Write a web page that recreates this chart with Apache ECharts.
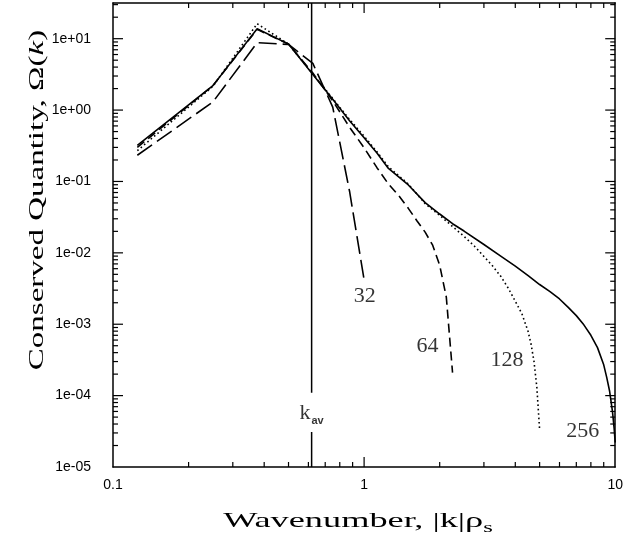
<!DOCTYPE html>
<html>
<head>
<meta charset="utf-8">
<script src="https://cdn.jsdelivr.net/npm/echarts@6/dist/echarts.min.js"></script>
<style>
  html, body { margin: 0; padding: 0; background: #fff; }
  #chart { width: 626px; height: 544px; }
</style>
</head>
<body>
<div id="chart"></div>
<script>
// Spectra of the conserved quantity for four grid resolutions
const k32 = [0.125, 0.25, 0.375, 0.5, 0.625, 0.75, 0.875, 1.0];
const omega32 = [0.233, 1.30, 8.8, 8.3, 4.5, 1.1, 0.073, 0.0042];

const k64 = [0.125, 0.25, 0.375, 0.5, 0.625, 0.75, 0.875, 1.0, 1.125, 1.25, 1.375, 1.5,
             1.625, 1.75, 1.875, 2.0, 2.125, 2.25];
const omega64 = [0.30, 2.2, 13.5, 8.4, 3.3, 1.35, 0.575, 0.296, 0.156, 0.092, 0.063, 0.042,
                 0.028, 0.0195, 0.0128, 0.0067, 0.0024, 0.00021];

const k128 = [0.125, 0.25, 0.375, 0.5, 0.625, 0.75, 0.875, 1.0, 1.125, 1.25, 1.5, 1.75,
              2.0, 2.25, 2.5, 2.75, 3.0, 3.25, 3.5, 3.75, 4.0, 4.25, 4.5, 4.625,
              4.75, 4.875, 5.0];
const omega128 = [0.27, 2.15, 16.2, 8.4, 3.2, 1.45, 0.74, 0.43, 0.26, 0.16, 0.092, 0.049,
                  0.0335, 0.0234, 0.017, 0.0124, 0.0089, 0.00653, 0.0047, 0.0032, 0.0021,
                  0.0014, 0.00079, 0.00052, 0.0003, 0.00013, 0.000033];

const k256 = [0.125, 0.25, 0.375, 0.5, 0.625, 0.75, 0.875, 1.0, 1.125, 1.25, 1.5, 1.75,
              2.0, 2.25, 2.5, 3.0, 3.5, 4.0, 4.5, 5.0, 5.5, 6.0, 6.5, 7.0, 7.5, 8.0, 8.5,
              9.0, 9.25, 9.5, 9.75, 9.9, 10.0];
const omega256 = [0.32, 2.2, 13.8, 8.4, 3.15, 1.42, 0.71, 0.41, 0.251, 0.152, 0.0893, 0.0505,
                  0.035, 0.0256, 0.0202, 0.0131, 0.009, 0.0065, 0.0048, 0.0036, 0.00286,
                  0.00226, 0.00172, 0.00132, 0.00098, 0.0007, 0.00047, 0.00027, 0.00018,
                  0.000115, 0.00006, 0.000035, 0.000022];

// Average wavenumber marker
const kAv = 0.618;

// Curve labels (text, k, Omega at the label anchor)
const curveLabels = ['32', '64', '128', '256'];
const curveLabelK = [1.005, 1.79, 3.71, 7.43];
const curveLabelOmega = [0.00249, 0.000497, 0.000317, 0.0000322];

// Axis ranges
const X_MIN = 0.1, X_MAX = 10;
const Y_MIN = 1e-5, Y_MAX = Math.pow(10, 1.5);

const zip = (xs, ys) => xs.map((x, i) => [x, ys[i]]);

// Log ticks on all four sides: [x, y, side(0 bottom,1 top,2 left,3 right), major]
const frameTicks = [];
for (let d = -1; d <= 0; d++) {
  for (let m = 1; m <= 9; m++) {
    const v = m * Math.pow(10, d);
    if (v <= X_MIN) continue;
    const major = m === 1 ? 1 : 0;
    frameTicks.push([v, Y_MIN, 0, major], [v, Y_MAX, 1, major]);
  }
}
for (let d = -5; d <= 1; d++) {
  for (let m = 1; m <= 9; m++) {
    const v = m * Math.pow(10, d);
    if (v <= Y_MIN || v >= Y_MAX) continue;
    const major = m === 1 ? 1 : 0;
    frameTicks.push([X_MIN, v, 2, major], [X_MAX, v, 3, major]);
  }
}

const INK = '#000';
const SERIF = '"Liberation Serif", "DejaVu Serif", serif';
const SANS = '"Liberation Sans", Arial, sans-serif';

function expLabel(v) {
  const e = Math.round(Math.log10(v));
  return '1e' + (e >= 0 ? '+' : '-') + String(Math.abs(e)).padStart(2, '0');
}

function curve(name, xs, ys, dash) {
  return {
    name, type: 'line', data: zip(xs, ys), showSymbol: false, symbol: 'none',
    lineStyle: { color: INK, width: 1.6, type: dash, cap: 'butt' },
    clip: true, z: 3
  };
}

const frameLine = { show: true, lineStyle: { color: INK, width: 1.5 } };

// Axis titles
const titleGraphics = [
  {
    id: 'title-x', type: 'text', x: 358, y: 521, scaleX: 1.65,
    style: {
      text: '{a|Wavenumber, |k|ρ}{s|s}',
      align: 'center', verticalAlign: 'middle', fill: INK,
      rich: {
        a: { fontFamily: SERIF, fontSize: 22, fill: INK, lineHeight: 30, verticalAlign: 'middle' },
        s: { fontFamily: SERIF, fontSize: 15, fill: INK, lineHeight: 16, verticalAlign: 'bottom' }
      }
    }
  },
  {
    id: 'title-y', type: 'text', x: 37, y: 200, rotation: Math.PI / 2, scaleX: 1.5,
    style: {
      text: '{a|Conserved Quantity, Ω(}{i|k}{a|)}',
      align: 'center', verticalAlign: 'middle', fill: INK,
      rich: {
        a: { fontFamily: SERIF, fontSize: 22, fill: INK },
        i: { fontFamily: SERIF, fontSize: 22, fontStyle: 'italic', fill: INK }
      }
    }
  }
];

const option = {
  animation: false,
  backgroundColor: '#fff',
  grid: { left: 113, right: 9, top: 3, bottom: 77 },
  xAxis: [
    {
      type: 'log', logBase: 10, min: X_MIN, max: X_MAX, position: 'bottom',
      axisLine: frameLine, axisTick: { show: false }, splitLine: { show: false },
      axisLabel: {
        color: INK, fontFamily: SANS, fontSize: 14, margin: 11,
        formatter: v => String(+v.toPrecision(3))
      }
    },
    {
      type: 'log', logBase: 10, min: X_MIN, max: X_MAX, position: 'top',
      axisLine: frameLine, axisTick: { show: false }, splitLine: { show: false },
      axisLabel: { show: false }
    }
  ],
  yAxis: [
    {
      type: 'log', logBase: 10, min: Y_MIN, max: Y_MAX, position: 'left',
      axisLine: frameLine, axisTick: { show: false }, splitLine: { show: false },
      axisLabel: {
        color: INK, fontFamily: SANS, fontSize: 14, margin: 22,
        showMaxLabel: false, formatter: expLabel
      }
    },
    {
      type: 'log', logBase: 10, min: Y_MIN, max: Y_MAX, position: 'right',
      axisLine: frameLine, axisTick: { show: false }, splitLine: { show: false },
      axisLabel: { show: false }
    }
  ],
  series: [
    curve('32', k32, omega32, [18, 6]),
    curve('64', k64, omega64, [9, 5]),
    curve('128', k128, omega128, [1.6, 2.8]),
    curve('256', k256, omega256, 'solid'),
    {
      type: 'line', data: [[kAv, Y_MAX], [kAv, 1.1e-4]], symbol: 'none',
      lineStyle: { color: INK, width: 1.5 }, z: 2
    },
    {
      type: 'line', data: [[kAv, 3.1e-5], [kAv, Y_MIN]], symbol: 'none',
      lineStyle: { color: INK, width: 1.5 }, z: 2
    },
    {
      // curve annotations and the k_av tag
      type: 'scatter', symbolSize: 0, z: 5,
      data: curveLabels.map((t, i) => ({
        value: [curveLabelK[i], curveLabelOmega[i]],
        label: { show: true, position: 'inside', formatter: t }
      })).concat([{
        value: [kAv, 5.6e-5],
        label: { show: true, position: 'inside', formatter: '{k|k}{s|av}' }
      }]),
      label: {
        color: INK, fontFamily: SERIF, fontSize: 22,
        rich: {
          k: { fontFamily: SERIF, fontSize: 22, color: INK, lineHeight: 26, verticalAlign: 'middle' },
          s: { fontFamily: SANS, fontSize: 11, fontWeight: 'bold', color: INK, lineHeight: 12,
               verticalAlign: 'bottom', padding: [0, 0, 0, 1] }
        }
      }
    }
  ],
  graphic: titleGraphics
};

const chart = echarts.init(document.getElementById('chart'), null, { renderer: 'canvas' });
chart.setOption(option);

// Frame ticks: positioned through the chart's own log axes, pointing inward
const tickGraphics = frameTicks.map((t, i) => {
  const p = chart.convertToPixel({ xAxisIndex: 0, yAxisIndex: 0 }, [t[0], t[1]]);
  const side = t[2];
  const len = t[3] ? 10 : 5;
  const w = 1.2;
  let shape;
  if (side === 0) shape = { x: p[0] - w / 2, y: p[1] - len, width: w, height: len };
  else if (side === 1) shape = { x: p[0] - w / 2, y: p[1], width: w, height: len };
  else if (side === 2) shape = { x: p[0], y: p[1] - w / 2, width: len, height: w };
  else shape = { x: p[0] - len, y: p[1] - w / 2, width: len, height: w };
  return { id: 'tick-' + i, type: 'rect', shape, style: { fill: INK }, silent: true, z: 10 };
});
chart.setOption({ graphic: titleGraphics.concat(tickGraphics) });
</script>
</body>
</html>
